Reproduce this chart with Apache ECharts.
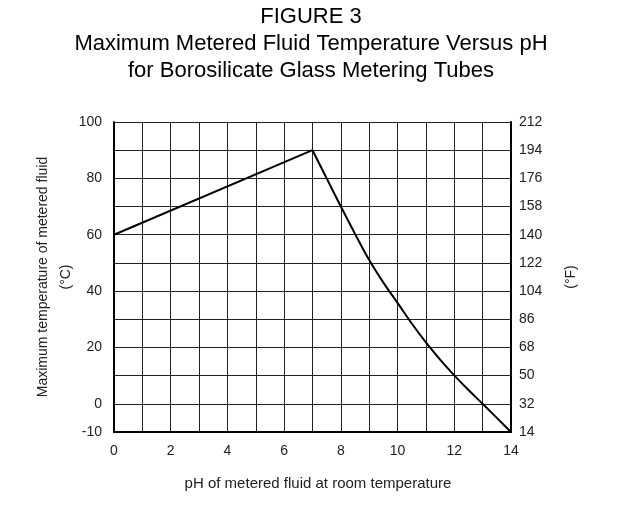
<!DOCTYPE html>
<html>
<head>
<meta charset="utf-8">
<script src="https://cdn.jsdelivr.net/npm/echarts@6/dist/echarts.min.js"></script>
<style>html,body{margin:0;padding:0;background:#fff}#c{width:622px;height:525px}</style>
</head>
<body>
<div id="c"></div>
<script>
// Rising segment (pH, °C)
var risePH = [0, 7];
var riseTemp = [60, 90];
// Falling segment (pH, °C)
var fallPH = [7, 7.5, 8, 8.5, 9, 9.5, 10, 10.5, 11, 11.5, 12, 12.5, 13, 13.5, 14];
var fallTemp = [90, 80, 70, 60.3, 51, 43, 35.8, 28.5, 21.8, 15.7, 10.1, 4.9, 0, -5, -10];
// Tick labels
var leftLabels = [100, 80, 60, 40, 20, 0, -10];
var xLabels = [0, 2, 4, 6, 8, 10, 12, 14];

function pairs(xs, ys) { return xs.map(function (x, i) { return [x, ys[i]]; }); }
function cToF(c) { return Math.round(c * 1.8 + 32); }

var font = 'Liberation Sans, Arial, sans-serif';
var chart = echarts.init(document.getElementById('c'), null, { renderer: 'canvas' });
chart.setOption({
  backgroundColor: '#fff',
  animation: false,
  title: {
    text: 'FIGURE 3\nMaximum Metered Fluid Temperature Versus pH\nfor Borosilicate Glass Metering Tubes',
    left: 'center', top: -2,
    textStyle: { fontFamily: font, fontSize: 22, fontWeight: 'normal', color: '#000', lineHeight: 27 }
  },
  grid: { left: 114, right: 111, top: 122, bottom: 93 },
  xAxis: {
    type: 'value', min: 0, max: 14, interval: 1,
    name: 'pH of metered fluid at room temperature', nameLocation: 'middle', nameGap: 44,
    nameTextStyle: { fontFamily: font, fontSize: 15, color: '#222', padding: [0, 0, 0, 11] },
    axisLine: { onZero: false, lineStyle: { color: '#000', width: 2 } },
    axisTick: { show: false },
    axisLabel: { fontFamily: font, fontSize: 14, color: '#222', margin: 12,
      formatter: function (v) { return xLabels.indexOf(v) >= 0 ? String(v) : ''; } },
    splitLine: { show: true, lineStyle: { color: '#222', width: 1 } }
  },
  yAxis: [{
    type: 'value', min: -10, max: 100, interval: 10, position: 'left',
    name: 'Maximum temperature of metered fluid\n(°C)', nameLocation: 'middle', nameRotate: 90, nameGap: 36,
    nameMoveOverlap: false,
    nameTextStyle: { fontFamily: font, fontSize: 14, color: '#222', lineHeight: 23 },
    axisLine: { show: true, onZero: false, lineStyle: { color: '#000', width: 2 } },
    axisTick: { show: false },
    axisLabel: { fontFamily: font, fontSize: 14, color: '#222', margin: 12,
      formatter: function (v) { return leftLabels.indexOf(v) >= 0 ? String(v) : ''; } },
    splitLine: { show: true, lineStyle: { color: '#222', width: 1 } }
  }, {
    type: 'value', min: -10, max: 100, interval: 10, position: 'right',
    name: '(°F)', nameLocation: 'middle', nameRotate: 90, nameGap: 53,
    nameMoveOverlap: false,
    nameTextStyle: { fontFamily: font, fontSize: 14, color: '#222' },
    axisLine: { show: true, onZero: false, lineStyle: { color: '#000', width: 2 } },
    axisTick: { show: false },
    axisLabel: { fontFamily: font, fontSize: 14, color: '#222', margin: 8,
      formatter: function (v) { return String(cToF(v)); } },
    splitLine: { show: false }
  }],
  series: [{
    type: 'line', data: pairs(risePH, riseTemp), showSymbol: false,
    lineStyle: { color: '#000', width: 2 }
  }, {
    type: 'line', data: pairs(fallPH, fallTemp), showSymbol: false, smooth: 0.4,
    lineStyle: { color: '#000', width: 2 }
  }]
});
</script>
</body>
</html>
